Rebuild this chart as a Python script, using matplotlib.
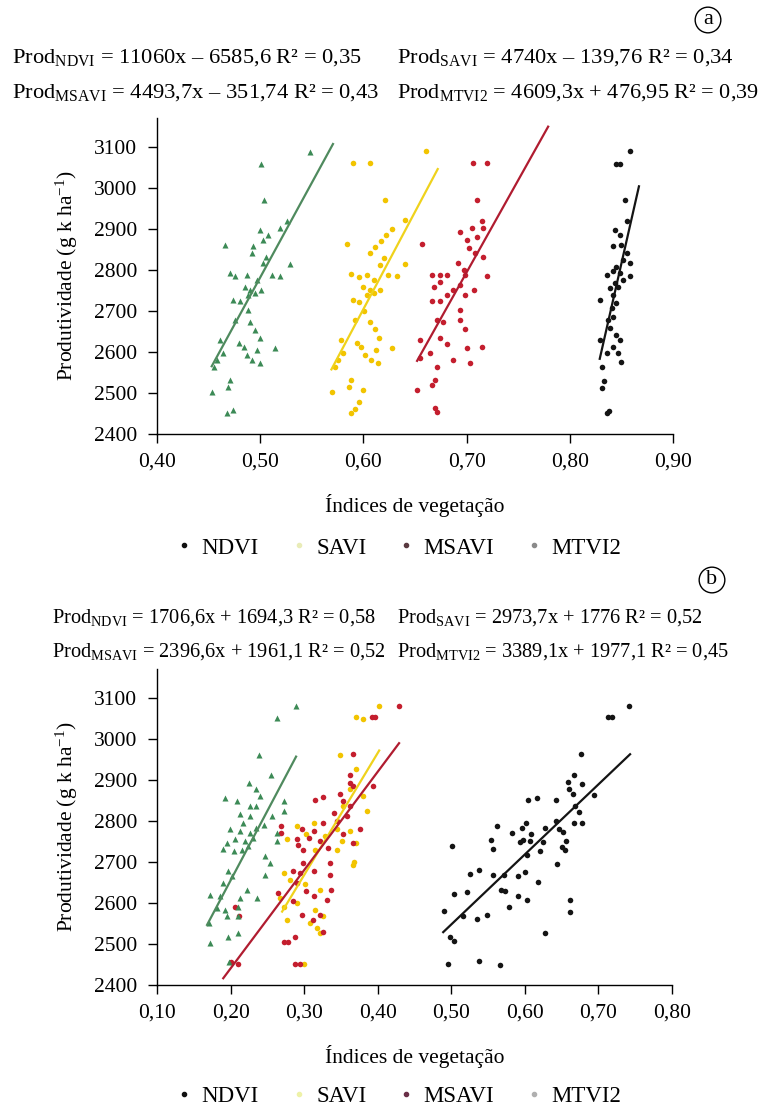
import matplotlib
matplotlib.use("Agg")
import matplotlib.pyplot as plt
from matplotlib.lines import Line2D

plt.rcParams['font.family'] = ['Liberation Serif', 'DejaVu Serif']
plt.rcParams['mathtext.fontset'] = 'custom'
plt.rcParams['mathtext.rm'] = 'Liberation Serif'
plt.rcParams['mathtext.it'] = 'Liberation Serif:italic'

# ---------------- panel (a) data ----------------
a_mtvi2_x = [0.548, 0.501, 0.504, 0.466, 0.529, 0.526, 0.519, 0.500, 0.508, 0.503, 0.493, 0.492,
             0.506, 0.503, 0.471, 0.476, 0.487, 0.511, 0.519, 0.497, 0.485, 0.490, 0.501, 0.474,
             0.480, 0.488, 0.495, 0.476, 0.488, 0.490, 0.495, 0.500, 0.461, 0.479, 0.484, 0.497,
             0.514, 0.487, 0.492, 0.500, 0.455, 0.464, 0.453, 0.471, 0.469, 0.468, 0.474, 0.458]
a_mtvi2_y = [3087, 3058, 2969, 2861, 2815, 2918, 2902, 2898, 2885, 2873, 2857, 2841,
             2832, 2816, 2792, 2784, 2788, 2788, 2784, 2776, 2759, 2751, 2751, 2727,
             2723, 2739, 2743, 2678, 2702, 2674, 2654, 2633, 2629, 2621, 2613, 2605,
             2609, 2593, 2580, 2572, 2564, 2597, 2503, 2532, 2515, 2450, 2459, 2580]

a_savi_x = [0.590, 0.606, 0.661, 0.621, 0.584, 0.640, 0.640, 0.628, 0.622, 0.617, 0.611, 0.606,
            0.620, 0.616, 0.588, 0.596, 0.603, 0.624, 0.633, 0.610, 0.600, 0.606, 0.616, 0.590,
            0.596, 0.603, 0.610, 0.592, 0.601, 0.606, 0.611, 0.615, 0.578, 0.594, 0.598, 0.612,
            0.628, 0.602, 0.607, 0.614, 0.572, 0.580, 0.570, 0.588, 0.586, 0.588, 0.592, 0.575,
            0.600, 0.596]
a_savi_y = [3060, 3060, 3089, 2970, 2862, 2921, 2815, 2900, 2885, 2870, 2855, 2840,
            2830, 2812, 2790, 2783, 2788, 2787, 2784, 2776, 2759, 2750, 2750, 2727,
            2722, 2738, 2744, 2678, 2700, 2674, 2655, 2633, 2628, 2622, 2612, 2605,
            2610, 2593, 2580, 2572, 2564, 2597, 2503, 2532, 2515, 2450, 2460, 2580,
            2508, 2478]

a_msavi_x = [0.706, 0.720, 0.710, 0.657, 0.694, 0.705, 0.715, 0.716, 0.710, 0.700, 0.702, 0.716,
             0.708, 0.692, 0.697, 0.720, 0.666, 0.674, 0.681, 0.698, 0.674, 0.694, 0.668, 0.687,
             0.707, 0.681, 0.698, 0.666, 0.674, 0.694, 0.671, 0.677, 0.694, 0.698, 0.655, 0.674,
             0.681, 0.700, 0.715, 0.665, 0.655, 0.687, 0.703, 0.671, 0.666, 0.669, 0.652, 0.669,
             0.671]
a_msavi_y = [3060, 3060, 2971, 2863, 2893, 2902, 2918, 2902, 2881, 2873, 2853, 2832,
             2841, 2816, 2800, 2785, 2788, 2788, 2788, 2788, 2771, 2763, 2759, 2751,
             2751, 2739, 2739, 2723, 2723, 2702, 2678, 2674, 2678, 2655, 2629, 2633,
             2620, 2609, 2613, 2597, 2585, 2580, 2574, 2564, 2520, 2532, 2507, 2463,
             2453]

a_ndvi_x = [0.858, 0.845, 0.849, 0.853, 0.855, 0.844, 0.849, 0.842, 0.850, 0.855, 0.852, 0.858,
            0.845, 0.842, 0.849, 0.836, 0.858, 0.852, 0.844, 0.839, 0.847, 0.842, 0.829, 0.845,
            0.841, 0.842, 0.837, 0.839, 0.845, 0.829, 0.849, 0.842, 0.847, 0.836, 0.850, 0.831,
            0.833, 0.831, 0.838, 0.836]
a_ndvi_y = [3089, 3059, 3059, 2969, 2918, 2898, 2885, 2857, 2861, 2841, 2824, 2816,
            2808, 2796, 2792, 2788, 2784, 2776, 2768, 2755, 2759, 2739, 2727, 2719,
            2707, 2686, 2678, 2658, 2641, 2629, 2629, 2613, 2597, 2597, 2576, 2564,
            2530, 2511, 2457, 2452]

# ---------------- panel (b) data ----------------
b_mtvi2_x = [0.263, 0.289, 0.238, 0.255, 0.225, 0.235, 0.240, 0.192, 0.209, 0.272, 0.226, 0.235,
             0.272, 0.213, 0.226, 0.256, 0.217, 0.235, 0.245, 0.199, 0.213, 0.226, 0.263, 0.206,
             0.220, 0.231, 0.195, 0.263, 0.190, 0.204, 0.215, 0.224, 0.247, 0.254, 0.197, 0.202,
             0.247, 0.190, 0.222, 0.172, 0.186, 0.213, 0.236, 0.181, 0.192, 0.210, 0.170, 0.195,
             0.210, 0.197, 0.210, 0.172, 0.198]
b_mtvi2_y = [3050, 3080, 2960, 2911, 2893, 2877, 2860, 2856, 2848, 2848, 2836, 2836,
             2824, 2816, 2812, 2812, 2795, 2783, 2791, 2779, 2775, 2771, 2771, 2755,
             2750, 2759, 2746, 2750, 2732, 2726, 2730, 2738, 2714, 2698, 2677, 2665,
             2669, 2649, 2632, 2620, 2616, 2612, 2612, 2588, 2583, 2591, 2551, 2567,
             2567, 2517, 2526, 2503, 2455]

b_savi_x = [0.402, 0.371, 0.380, 0.349, 0.371, 0.362, 0.380, 0.353, 0.385, 0.290, 0.313, 0.344,
            0.362, 0.276, 0.303, 0.328, 0.351, 0.371, 0.315, 0.344, 0.367, 0.272, 0.281, 0.301,
            0.322, 0.267, 0.272, 0.290, 0.315, 0.326, 0.276, 0.308, 0.317, 0.321, 0.368, 0.300]
b_savi_y = [3080, 3052, 3048, 2960, 2926, 2877, 2860, 2836, 2824, 2787, 2795, 2779,
            2775, 2755, 2767, 2763, 2750, 2746, 2730, 2730, 2693, 2673, 2657, 2645,
            2632, 2612, 2591, 2600, 2583, 2567, 2559, 2551, 2539, 2526, 2700, 2450]

b_msavi_x = [0.429, 0.392, 0.396, 0.367, 0.362, 0.362, 0.367, 0.394, 0.349, 0.326, 0.315, 0.353,
             0.362, 0.340, 0.358, 0.326, 0.344, 0.269, 0.297, 0.313, 0.376, 0.269, 0.290, 0.306,
             0.322, 0.353, 0.367, 0.292, 0.299, 0.333, 0.299, 0.335, 0.285, 0.294, 0.313, 0.335,
             0.290, 0.337, 0.265, 0.303, 0.313, 0.331, 0.285, 0.297, 0.322, 0.312, 0.206, 0.211,
             0.326, 0.288, 0.278, 0.288, 0.295, 0.200, 0.210, 0.272]
b_msavi_y = [3080, 3052, 3052, 2962, 2911, 2893, 2885, 2885, 2865, 2859, 2852, 2848,
             2836, 2820, 2812, 2795, 2799, 2787, 2779, 2775, 2779, 2771, 2755, 2759,
             2750, 2767, 2746, 2742, 2730, 2734, 2698, 2698, 2677, 2673, 2677, 2667,
             2649, 2632, 2624, 2628, 2616, 2608, 2604, 2571, 2571, 2559, 2591, 2567,
             2528, 2518, 2506, 2450, 2450, 2455, 2450, 2505]

b_ndvi_x = [0.742, 0.713, 0.718, 0.676, 0.667, 0.659, 0.677, 0.660, 0.665, 0.694, 0.616, 0.604,
            0.642, 0.668, 0.673, 0.667, 0.677, 0.642, 0.647, 0.652, 0.627, 0.602, 0.596, 0.562,
            0.582, 0.608, 0.554, 0.597, 0.607, 0.624, 0.656, 0.650, 0.655, 0.556, 0.501, 0.621,
            0.603, 0.593, 0.644, 0.618, 0.600, 0.591, 0.572, 0.556, 0.537, 0.525, 0.567, 0.573,
            0.591, 0.603, 0.578, 0.504, 0.522, 0.661, 0.661, 0.548, 0.535, 0.516, 0.490, 0.498,
            0.503, 0.627, 0.496, 0.538, 0.566]
b_ndvi_y = [3080, 3052, 3052, 2962, 2911, 2895, 2891, 2877, 2865, 2862, 2856, 2850,
            2850, 2836, 2821, 2795, 2795, 2799, 2779, 2772, 2783, 2794, 2783, 2787,
            2771, 2767, 2753, 2753, 2750, 2748, 2750, 2737, 2730, 2732, 2738, 2726,
            2718, 2748, 2696, 2650, 2675, 2665, 2667, 2667, 2680, 2671, 2632, 2628,
            2616, 2606, 2591, 2622, 2626, 2608, 2579, 2571, 2561, 2569, 2581, 2518,
            2508, 2526, 2451, 2459, 2449]

# regression equations (slope, intercept) and x extent of each fitted line
a_fit = {'NDVI': (11060, -6585.6, 0.829, 0.867), 'SAVI': (4740, -139.76, 0.569, 0.672),
         'MSAVI': (4493.7, -351.74, 0.652, 0.779), 'MTVI2': (4609.3, 476.95, 0.453, 0.5705)}
b_fit = {'NDVI': (1706.6, 1694.3, 0.489, 0.743), 'SAVI': (2973.7, 1776, 0.270, 0.402),
         'MSAVI': (2396.6, 1961.1, 0.190, 0.429), 'MTVI2': (3389.1, 1977.1, 0.168, 0.289)}

a_eq = [r"Prod$_{\mathrm{NDVI}}$ = 11060x – 6585,6 R² = 0,35",
        r"Prod$_{\mathrm{SAVI}}$ = 4740x – 139,76 R² = 0,34",
        r"Prod$_{\mathrm{MSAVI}}$ = 4493,7x – 351,74 R² = 0,43",
        r"Prod$_{\mathrm{MTVI2}}$ = 4609,3x + 476,95 R² = 0,39"]
b_eq = [r"Prod$_{\mathrm{NDVI}}$ = 1706,6x + 1694,3 R² = 0,58",
        r"Prod$_{\mathrm{SAVI}}$ = 2973,7x + 1776 R² = 0,52",
        r"Prod$_{\mathrm{MSAVI}}$ = 2396,6x + 1961,1 R² = 0,52",
        r"Prod$_{\mathrm{MTVI2}}$ = 3389,1x + 1977,1 R² = 0,45"]

y_ticks = [2400, 2500, 2600, 2700, 2800, 2900, 3000, 3100]
a_xticks = [0.40, 0.50, 0.60, 0.70, 0.80, 0.90]
b_xticks = [0.10, 0.20, 0.30, 0.40, 0.50, 0.60, 0.70, 0.80]

pt_col = {'NDVI': '#141414', 'SAVI': '#f2c400', 'MSAVI': '#c41e2e', 'MTVI2': '#3c8a56'}
ln_col = {'NDVI': '#141414', 'SAVI': '#efd21c', 'MSAVI': '#b01c30', 'MTVI2': '#4f8a5e'}

fig = plt.figure(figsize=(7.66, 11.13), dpi=100)
ax1 = fig.add_axes([0.2050, 0.6101, 0.6736, 0.2839])
ax2 = fig.add_axes([0.2050, 0.1150, 0.6723, 0.2839])


def draw(ax, series, fit, xticks, xlim):
    for name, xs, ys in series:
        mk = '^' if name == 'MTVI2' else 'o'
        ax.scatter(xs, ys, s=16 if mk == 'o' else 19, marker=mk, color=pt_col[name],
                   linewidths=0, zorder=2)
    for name in ['SAVI', 'MSAVI', 'MTVI2', 'NDVI']:
        m, c, x0, x1 = fit[name]
        ax.plot([x0, x1], [m * x0 + c, m * x1 + c], color=ln_col[name], lw=1.6, zorder=3)
    ax.set_xlim(xlim)
    ax.set_ylim(2400, 3170)
    ax.set_yticks(y_ticks)
    ax.set_xticks(xticks)
    ax.set_xticklabels([f"{t:.2f}".replace('.', ',') for t in xticks])
    for s in ['top', 'right']:
        ax.spines[s].set_visible(False)
    for s in ['left', 'bottom']:
        ax.spines[s].set_linewidth(1.0)
    ax.tick_params(direction='out', length=6.5, width=1.0, labelsize=15.5)
    ax.tick_params(axis='y', pad=8)
    ax.tick_params(axis='x', pad=7)
    ax.set_xlabel("Índices de vegetação", fontsize=15.5, labelpad=16)
    ax.set_ylabel("Produtividade (g k ha$^{-1}$)", fontsize=15.5, labelpad=10)


draw(ax1, [('MTVI2', a_mtvi2_x, a_mtvi2_y), ('SAVI', a_savi_x, a_savi_y),
           ('MSAVI', a_msavi_x, a_msavi_y), ('NDVI', a_ndvi_x, a_ndvi_y)],
     a_fit, a_xticks, (0.40, 0.90))
draw(ax2, [('SAVI', b_savi_x, b_savi_y), ('MSAVI', b_msavi_x, b_msavi_y),
           ('MTVI2', b_mtvi2_x, b_mtvi2_y), ('NDVI', b_ndvi_x, b_ndvi_y)],
     b_fit, b_xticks, (0.10, 0.80))

# equations
fig.text(12 / 766, 1 - 58 / 1113, a_eq[0], fontsize=16.2, va='center')
fig.text(397 / 766, 1 - 58 / 1113, a_eq[1], fontsize=16.2, va='center')
fig.text(12 / 766, 1 - 93 / 1113, a_eq[2], fontsize=16.2, va='center')
fig.text(397 / 766, 1 - 93 / 1113, a_eq[3], fontsize=16.0, va='center')
fig.text(52 / 766, 1 - 618 / 1113, b_eq[0], fontsize=14.7, va='center')
fig.text(397 / 766, 1 - 618 / 1113, b_eq[1], fontsize=14.7, va='center')
fig.text(52 / 766, 1 - 652 / 1113, b_eq[2], fontsize=14.7, va='center')
fig.text(397 / 766, 1 - 652 / 1113, b_eq[3], fontsize=14.7, va='center')

# panel letters
for lab, px, py in [('a', 708, 20), ('b', 712, 580)]:
    fig.text(px / 766, 1 - py / 1113, lab, fontsize=16, ha='center', va='center',
             bbox=dict(boxstyle='circle,pad=0.15', fc='white', ec='black', lw=1.0))

# legends
leg_cols_a = ['#111111', '#e9ecb8', '#5a3a40', '#8a8a8a']
leg_cols_b = ['#111111', '#eef2a8', '#6a3048', '#b0b0b0']
names = ['NDVI', 'SAVI', 'MSAVI', 'MTVI2']
for cols, ypos in [(leg_cols_a, 1 - 548 / 1113), (leg_cols_b, 1 - 1096 / 1113)]:
    handles = [Line2D([], [], ls='none', marker='o', ms=3, color=c, mec=c) for c in cols]
    fig.legend(handles, names, loc='center', bbox_to_anchor=(400 / 766, ypos), ncol=4,
               frameon=False, fontsize=16.5, handlelength=0.5, handletextpad=0.5,
               columnspacing=1.5)

fig.savefig('out.png', dpi=100)
